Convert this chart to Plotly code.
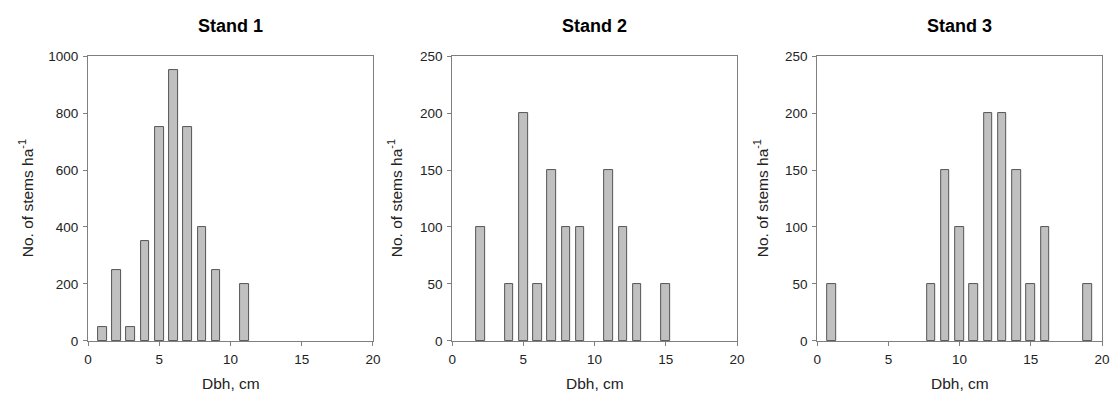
import plotly.graph_objects as go

titles = ["Stand 1", "Stand 2", "Stand 3"]
x1 = [1, 2, 3, 4, 5, 6, 7, 8, 9, 11]
y1 = [50, 250, 50, 350, 750, 950, 750, 400, 250, 200]
x2 = [2, 4, 5, 6, 7, 8, 9, 11, 12, 13, 15]
y2 = [100, 50, 200, 50, 150, 100, 100, 150, 100, 50, 50]
x3 = [1, 8, 9, 10, 11, 12, 13, 14, 15, 16, 19]
y3 = [50, 50, 150, 100, 50, 200, 200, 150, 50, 100, 50]
y_ranges = [[0, 1000], [0, 250], [0, 250]]
y_dticks = [200, 50, 50]
x_ticks = [0, 5, 10, 15, 20]
x_title = "Dbh, cm"
y_title = "No. of stems ha<sup>-1</sup>"

W, H = 1118, 398
lefts = [85, 453, 822]
rights = [373, 741, 1110]
ytitle_x = [22, 395, 765]
top, bottom = 51, 347

fig = go.Figure()
data = [(x1, y1), (x2, y2), (x3, y3)]
font = "Liberation Sans, Arial, sans-serif"
txt = "#222222"
for i, (xs, ys) in enumerate(data):
    n = "" if i == 0 else str(i + 1)
    fig.add_trace(go.Bar(
        x=xs, y=ys, width=0.6,
        marker=dict(color="#c0c0c0", line=dict(color="#555555", width=1)),
        xaxis="x" + n, yaxis="y" + n, showlegend=False,
    ))
    axstyle = dict(showline=True, linecolor="#7f7f7f", linewidth=1, mirror=True,
                   ticks="outside", ticklen=4, tickcolor="#7f7f7f",
                   showgrid=False, zeroline=False,
                   tickfont=dict(family=font, size=13.5, color=txt))
    fig.layout["xaxis" + n] = dict(
        domain=[lefts[i] / W, rights[i] / W], range=[0, 20],
        tickvals=x_ticks, anchor="y" + n, ticklabelstandoff=2, **axstyle)
    fig.layout["yaxis" + n] = dict(
        domain=[1 - bottom / H, 1 - top / H], range=y_ranges[i], dtick=y_dticks[i],
        anchor="x" + n, ticklabelstandoff=2, **axstyle)
    cx = (lefts[i] + rights[i]) / 2 / W
    fig.add_annotation(
        text="<b>" + titles[i] + "</b>", xref="paper", yref="paper",
        x=cx, y=1 - 20 / H, showarrow=False,
        font=dict(family=font, size=18, color="#000000"), xanchor="center", yanchor="middle")
    fig.add_annotation(
        text=x_title, xref="paper", yref="paper",
        x=cx, y=1 - 391 / H, showarrow=False,
        font=dict(family=font, size=15.5, color=txt), xanchor="center", yanchor="middle")
    fig.add_annotation(
        text=y_title, xref="paper", yref="paper", textangle=-90,
        x=ytitle_x[i] / W, y=1 - (top + bottom) / 2 / H, showarrow=False,
        font=dict(family=font, size=15.5, color=txt), xanchor="center", yanchor="middle")

fig.update_layout(
    width=W, height=H, margin=dict(l=0, r=0, t=0, b=0),
    plot_bgcolor="white", paper_bgcolor="white", bargap=0,
)
post = ("var d=document.getElementById('{plot_id}');"
        "d.style.position='fixed';d.style.top='0px';d.style.left='0px';"
        "document.documentElement.style.overflow='hidden';"
        "document.body.style.margin='0';document.body.style.overflow='hidden';")
fig.write_html("out.html", post_script=post,
               config={"displayModeBar": False, "responsive": False})
